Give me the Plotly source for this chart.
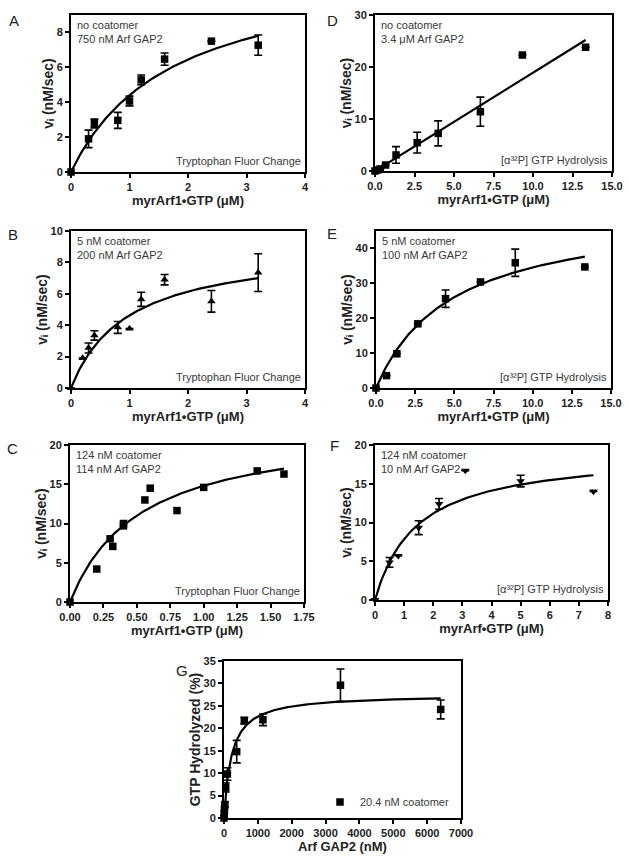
import numpy as np
import plotly.graph_objects as go

W, H = 629, 862

# ---------------- data ----------------
# Panel A
a_x = [0, 0.3, 0.4, 0.8, 1.0, 1.2, 1.6, 2.4, 3.2]
a_y = [0, 1.9, 2.78, 2.96, 4.07, 5.28, 6.47, 7.5, 7.27]
a_err = [None, 0.5, 0.25, 0.46, 0.28, 0.28, 0.35, None, 0.58]
a_fit = dict(vmax=12.03, km=1.73)

# Panel B
b_x = [0, 0.2, 0.3, 0.4, 0.8, 1.0, 1.2, 1.6, 2.4, 3.2]
b_y = [0, 1.91, 2.55, 3.35, 3.86, 3.78, 5.65, 6.9, 5.52, 7.35]
b_err = [None, None, 0.32, 0.3, 0.38, None, 0.45, 0.33, 0.69, 1.2]
b_fit = dict(vmax=9.12, km=0.97)

# Panel C
c_x = [0, 0.2, 0.3, 0.32, 0.4, 0.4, 0.56, 0.6, 0.8, 1.0, 1.4, 1.6]
c_y = [0, 4.2, 8.05, 7.08, 10.0, 9.7, 13.0, 14.5, 11.65, 14.6, 16.7, 16.3]
c_fit = dict(vmax=22.6, km=0.527)

# Panel D
d_x = [0, 0.17, 0.33, 0.67, 1.33, 2.67, 4.0, 6.67, 9.33, 13.33]
d_y = [0, 0.2, 0.4, 1.15, 3.08, 5.45, 7.24, 11.4, 22.3, 23.8]
d_err = [None, None, None, None, 1.6, 2.0, 2.4, 2.8, None, None]
d_slope = 1.89

# Panel E
e_x = [0, 0.67, 1.33, 2.67, 4.44, 6.67, 8.89, 13.33]
e_y = [0, 3.55, 9.8, 18.4, 25.6, 30.4, 35.9, 34.7]
e_err = [None, None, None, None, 2.5, None, 3.9, None]
e_fit = dict(vmax=51.4, km=4.87)

# Panel F
f_x = [0, 0.5, 0.8, 1.5, 2.2, 3.1, 5.0, 7.5]
f_y = [0, 4.86, 5.7, 9.33, 12.4, 16.7, 15.35, 14.0]
f_err = [None, 0.63, None, 0.9, 0.7, None, 0.75, None]
f_fit = dict(vmax=19.18, km=1.436)

# Panel G
g_x = [0, 6, 12, 25, 50, 100, 375, 600, 1150, 3440, 6400]
g_y = [0, 1.0, 2.0, 3.0, 6.8, 9.8, 14.8, 21.7, 21.9, 29.6, 24.2]
g_err = [None, None, None, 0.6, 1.0, 1.4, 2.5, 0.75, 1.3, 3.6, 2.1]
g_fit = dict(vmax=27.6, km=220)

FONT = "Liberation Sans, Arial, DejaVu Sans, sans-serif"
TXT = "#3a3a3a"

fig = go.Figure()


def mm(x, p):
    return p["vmax"] * x / (p["km"] + x)


def px_domain(x0, x1, y0, y1):
    return [x0 / W, x1 / W], [1 - y1 / H, 1 - y0 / H]


def add_panel(i, box, xs, ys, errs, symbol, curve_x, curve_y, xrange, xdtick,
              xfmt, yrange, ydtick, xtitle, ytitle, letter, letter_pos,
              top_text, bottom_text, name=None, showlegend=False):
    xa = "x" if i == 1 else f"x{i}"
    ya = "y" if i == 1 else f"y{i}"
    xd, yd = px_domain(*box)
    err = None
    if errs is not None:
        err = dict(type="data", array=[e if e is not None else np.nan for e in errs],
                   visible=True, color="black", thickness=1.6, width=4)
    fig.add_trace(go.Scatter(x=curve_x, y=curve_y, mode="lines",
                             line=dict(color="black", width=2.2),
                             xaxis=xa, yaxis=ya, showlegend=False,
                             hoverinfo="skip", cliponaxis=False))
    fig.add_trace(go.Scatter(x=xs, y=ys, mode="markers", error_y=err,
                             marker=dict(symbol=symbol, size=7.5, color="black",
                                         line=dict(width=0)),
                             xaxis=xa, yaxis=ya, name=name or "",
                             showlegend=showlegend, cliponaxis=False))
    axis_common = dict(showline=True, linewidth=2, linecolor="black", mirror=True,
                       ticks="outside", ticklen=4, tickwidth=2, tickcolor="black",
                       showgrid=False, zeroline=False, automargin=False,
                       tickfont=dict(family=FONT, size=11, color="#222",
                                     weight="bold"))
    xkey = "xaxis" if i == 1 else f"xaxis{i}"
    ykey = "yaxis" if i == 1 else f"yaxis{i}"
    fig.update_layout({
        xkey: dict(domain=xd, range=xrange, dtick=xdtick, tick0=0,
                   tickformat=xfmt, anchor=ya,
                   title=dict(text=xtitle, standoff=0,
                              font=dict(family=FONT, size=13, color="#222",
                                        weight="bold")),
                   **axis_common),
        ykey: dict(domain=yd, range=yrange, dtick=ydtick, tick0=0, anchor=xa,
                   title=dict(text=ytitle, standoff=0,
                              font=dict(family=FONT, size=14, color="#222",
                                        weight="bold")),
                   **axis_common),
    })
    fig.add_annotation(text=letter, x=letter_pos[0] / W, y=1 - letter_pos[1] / H,
                       xref="paper", yref="paper", showarrow=False,
                       font=dict(family=FONT, size=15, color="#222"),
                       xanchor="center", yanchor="middle")
    if top_text:
        fig.add_annotation(text=top_text, x=(box[0] + 4) / W, y=1 - (box[2] + 2) / H,
                           xref="paper", yref="paper", showarrow=False,
                           align="left", xanchor="left", yanchor="top",
                           font=dict(family=FONT, size=11, color=TXT))
    if bottom_text:
        fig.add_annotation(text=bottom_text, x=(box[1] - 2) / W, y=1 - (box[3] - 3) / H,
                           xref="paper", yref="paper", showarrow=False,
                           align="right", xanchor="right", yanchor="bottom",
                           font=dict(family=FONT, size=11, color=TXT))


VI = "vᵢ (nM/sec)"
XT1 = "myrArf1•GTP (μM)"
TRP = "Tryptophan Fluor Change"
HYD = "[α³²P] GTP Hydrolysis"

cx = np.linspace(0, max(a_x), 120)
add_panel(1, (71, 305, 15, 172), a_x, a_y, a_err, "square", cx, mm(cx, a_fit),
          [0, 4], 1, None, [0, 9], 2, XT1, VI, "A", (14, 20),
          "no coatomer<br>750 nM Arf GAP2", TRP)

cx = np.linspace(0, max(d_x), 2)
add_panel(2, (375, 612, 15, 171), d_x, d_y, d_err, "square", cx, d_slope * cx,
          [0, 15], 2.5, ".1f", [0, 30], 10, XT1, VI, "D", (332, 20),
          "no coatomer<br>3.4 μM Arf GAP2", HYD)

cx = np.linspace(0, max(b_x), 120)
add_panel(3, (71, 305, 231, 388), b_x, b_y, b_err, "triangle-up", cx, mm(cx, b_fit),
          [0, 4], 1, None, [0, 10], 2, XT1, VI, "B", (13, 234),
          "5 nM coatomer<br>200 nM Arf GAP2", TRP)

cx = np.linspace(0, max(e_x), 120)
add_panel(4, (376, 611, 231, 388), e_x, e_y, e_err, "square", cx, mm(cx, e_fit),
          [0, 15], 2.5, ".1f", [0, 45], 10, XT1, VI, "E", (332, 233),
          "5 nM coatomer<br>100 nM Arf GAP2", HYD)

cx = np.linspace(0, max(c_x), 120)
add_panel(5, (70, 304, 445, 602), c_x, c_y, None, "square", cx, mm(cx, c_fit),
          [0, 1.75], 0.25, ".2f", [0, 20], 5, XT1, VI, "C", (13, 448),
          "124 nM coatomer<br>114 nM Arf GAP2", TRP)

cx = np.linspace(0, max(f_x), 120)
add_panel(6, (375, 608, 445, 600), f_x, f_y, f_err, "triangle-down", cx, mm(cx, f_fit),
          [0, 8], 1, None, [0, 20], 5, "myrArf•GTP (μM)", VI, "F", (334, 445),
          "124 nM coatomer<br>10 nM Arf GAP2", HYD)

cx = np.linspace(0, max(g_x), 300)
add_panel(7, (224, 461, 661, 818), g_x, g_y, g_err, "square", cx, mm(cx, g_fit),
          [0, 7000], 1000, None, [0, 35], 5, "Arf GAP2 (nM)", "GTP Hydrolyzed (%)",
          "G", (182, 670), None, None, name="20.4 nM coatomer", showlegend=True)

fig.update_layout(
    template="none",
    width=W, height=H, margin=dict(l=0, r=0, t=0, b=0, autoexpand=False),
    paper_bgcolor="white", plot_bgcolor="white",
    font=dict(family=FONT, color="#222"),
    legend=dict(x=320 / W, y=1 - 802 / H, xanchor="left", yanchor="middle",
                bgcolor="rgba(0,0,0,0)", font=dict(family=FONT, size=11, color=TXT),
                itemwidth=30, tracegroupgap=0),
)

fig.write_html("out.html",
               config=dict(displayModeBar=False),
               post_script="document.body.style.margin='0px';"
                           "document.body.style.overflow='hidden';")
